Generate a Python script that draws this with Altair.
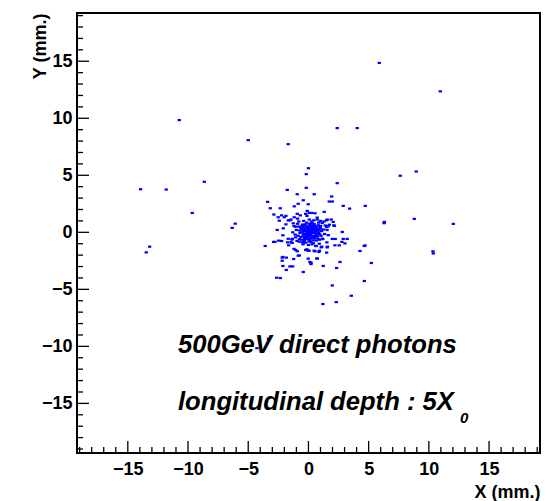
import altair as alt
import pandas as pd

# ---- data (mm) ----
outer_x = [5.88, 10.95, -10.73, -5.00, -1.68, 2.39, 4.05, 0.00, -0.18, 2.39, 7.62, 8.95, -8.65, -13.94, -11.81,
           -9.65, -1.76, -0.93, 0.48, -0.18, -3.39, -3.17, -2.34, -0.43, -0.85, -0.02, -1.18, 1.93, 1.73, 1.98,
           2.89, 3.42, 4.72, 8.79, 1.31, -2.87, -2.23, -1.87, -2.51, -2.01, -0.93, -0.68, -0.23, -0.12, 0.07,
           0.29, 0.54, -0.10, -1.18, -0.90, 0.73, 0.73, 1.56, 1.89, 0.07, -1.54, -6.08, -6.33, -13.19, -13.47,
           6.30, 6.28, 12.03, 10.34, 10.37, 5.22, 4.64, 3.56, 2.31, 1.20, 1.98, 2.34, 2.62, 1.23, -0.43,
           0.21, 0.12, 0.73, -0.02, -0.85, -1.23, -1.84, -2.18, -2.18, -2.12, -1.54, -1.31, -1.84, -2.64, -2.34,
           -3.59, 4.28, 4.63, 4.70, 3.22, 2.89, 3.03, 2.78, 2.56, 2.20, 2.23, 1.98, 2.81, 2.14, 2.06,
           1.64, 1.51, 1.51, 0.87, 0.54, 1.56, 1.06, -0.04, -0.23, -1.06, -1.20, -2.89, -2.78, -2.48, -2.23,
           -1.64, -1.73, -1.35, -1.37, -1.06, -2.12, -2.09, -2.59, -1.87, -2.42, -1.68, -1.45, -1.26, -1.06, -0.93,
           -0.76, -1.68, -1.45, -1.34, 1.73, 1.15, 1.01, 1.51, 2.12, 1.53, 1.58, 1.11, 0.64, 0.41, 0.91,
           0.47, 0.70, 0.22, -2.12, -3.32, -4.28, -0.50, -0.22, 0.00, -0.13, 0.06, -0.36, -0.77]
outer_y = [14.85, 12.36, 9.84, 8.08, 7.73, 9.14, 9.14, 5.62, 5.10, 4.31, 4.96, 5.33, 4.43, 3.78, 3.75,
           1.70, 3.72, 3.34, 3.34, 3.90, 2.67, 2.11, 2.11, 2.81, 2.50, 2.46, 2.28, 3.14, 2.70, 2.70,
           2.32, 2.08, 2.32, 1.18, 1.79, 1.56, 1.49, 1.44, 1.32, 1.32, 1.62, 1.49, 1.62, 1.44, 1.70,
           1.70, 1.67, 1.88, 1.32, 1.20, 1.29, 1.12, 1.12, 1.12, 1.12, 1.05, 0.76, 0.39, -1.26, -1.76,
           0.91, 0.80, 0.74, -1.67, -1.85, -2.69, -4.27, -5.56, -6.12, -6.29, -4.66, -3.13, -2.60, -2.95, -3.48,
           -2.78, -2.60, -2.31, -2.31, -2.05, -2.34, -2.22, -2.22, -2.49, -2.95, -2.99, -2.99, -3.30, -3.98, -4.01,
           -1.20, -1.64, -1.20, -1.15, -0.58, -0.58, -0.97, -0.84, -1.14, -1.14, -0.58, -0.58, 0.03, 0.56, 0.91,
           0.53, 1.05, -1.78, -1.72, -1.67, -1.32, -1.32, -1.61, -1.55, -1.55, -1.46, -0.84, -0.84, -0.73, -0.76,
           -1.14, -0.88, -0.93, -0.64, -0.44, -0.26, 0.35, 0.21, 0.70, 1.02, 1.05, 1.12, 0.79, 0.49, -1.66,
           -2.03, -0.57, -0.87, -0.57, 0.67, 0.81, 0.55, 0.46, 0.61, -0.88, -1.26, -1.26, -1.20, -0.96, -1.61,
           -1.61, -2.28, -2.66, -2.16, -9.34, -10.16, -0.88, -0.91, -1.11, -1.49, -1.61, -0.67, -0.82]

core_x = [0.12, 0.25, -0.05, 0.35, -0.20, 0.05, 0.48, -0.32, 0.18, 0.62, -0.45, 0.30, -0.12, 0.72, -0.60,
          0.02, 0.55, -0.38, 0.85, -0.70, 0.40, -0.25, 0.95, -0.80, 0.10, 0.78, -0.55, 0.20, 1.05, -0.15,
          0.08, 0.42, -0.10, 0.28, 0.15, -0.28, 0.58, -0.02, 0.38, -0.42, 0.68, 0.22, -0.08, 0.50, -0.50,
          0.88, -0.65, 0.32, 0.65, -0.35, 0.00, 0.20, -0.18, 0.10, 0.45, -0.22, 0.30, 0.55, -0.40, 0.15,
          0.75, -0.62, 0.92, 1.10, -0.85, 0.48, -0.25, 0.05, 0.82, -0.72, 0.35, 0.02, -0.05, 0.60, 0.25,
          -0.32, 0.40, 0.70, -0.15, 0.12, 1.00, -0.48, 0.58, 0.28, -0.08, 0.38, 0.80, -0.30, 0.18, 0.50,
          0.65, -0.55, 0.95, 0.05, -0.42, 0.25, 1.15, -0.75, 0.85, -0.90,
          1.25, 1.35, 1.20, 1.40, -1.00, -1.10, -0.95, -1.20, 0.90, 0.30, -0.45, 1.30, 0.45, -0.40, -0.80,
          1.65, 1.55, -1.30, 0.60, 1.00]
core_y = [0.05, -0.10, 0.18, 0.22, -0.15, -0.32, 0.02, 0.10, 0.40, -0.22, -0.30, -0.48, 0.52, 0.30, 0.28,
          -0.60, 0.55, 0.55, -0.05, -0.05, -0.70, -0.62, 0.45, 0.50, 0.75, -0.55, -0.65, -0.85, -0.30, 0.85,
          0.28, 0.12, -0.05, 0.08, -0.20, 0.32, 0.38, 0.42, -0.32, -0.12, 0.10, 0.62, -0.45, -0.50, 0.05,
          0.20, 0.42, 0.82, -0.72, -0.82, 0.00, 0.18, 0.08, -0.10, 0.30, -0.35, 0.48, -0.08, 0.40, -0.55,
          -0.35, -0.40, -0.65, 0.10, -0.30, 0.72, 0.70, 0.60, 0.62, 0.15, -0.05, 0.30, -0.22, 0.20, -0.38,
          -0.48, 0.40, -0.18, 0.35, -0.72, 0.32, 0.68, -0.35, 0.25, 0.12, 0.62, 0.05, -0.22, 0.02, 0.15,
          0.50, 0.55, -0.20, -0.80, 0.22, 0.95, -0.55, -0.60, 0.85, 0.75,
          0.25, -0.15, -0.60, 0.60, 0.20, -0.20, -0.75, 0.55, -1.00, -1.05, -1.05, 0.95, 1.05, 1.00, 0.95,
          -0.25, 0.20, 0.00, -1.20, 1.00]

major_ticks = [-15, -10, -5, 0, 5, 10, 15]
minor_ticks = [-19, -18, -17, -16, -14, -13, -12, -11, -9, -8, -7, -6, -4, -3, -2, -1,
               1, 2, 3, 4, 6, 7, 8, 9, 11, 12, 13, 14, 16, 17, 18, 19]
x_domain = [-19.22, 19.23]
y_domain = [-19.35, 19.23]

line1 = ["500GeV direct photons"]
line2 = ["longitudinal depth : 5X"]
sub = ["0"]

W, H = 463, 440
FONT = "Liberation Sans"

df = pd.DataFrame({"x": outer_x + core_x, "y": outer_y + core_y})
xs = alt.Scale(domain=x_domain, nice=False, zero=False)
ys = alt.Scale(domain=y_domain, nice=False, zero=False)

common_axis = dict(ticks=False, domain=False, grid=False, labelFont=FONT, labelFontWeight="bold",
                   labelFontSize=18, labelColor="black", labelOverlap=False, titleFont=FONT,
                   titleFontWeight="bold", titleFontSize=18, titleColor="black", values=major_ticks)

points = alt.Chart(df).mark_point(
    shape="M-1,-0.67L1,-0.67L1,0.67L-1,0.67Z", filled=True, size=11, color="#0000ff", opacity=1, strokeWidth=0
).encode(
    x=alt.X("x:Q", scale=xs, axis=alt.Axis(title="X (mm.)", labelPadding=7, titleAnchor="end",
                                          titleAlign="right", titleBaseline="alphabetic", titleX=W, titleY=44,
                                          **common_axis)),
    y=alt.Y("y:Q", scale=ys, axis=alt.Axis(title="Y (mm.)", labelPadding=5, titleAngle=270, titleAnchor="end",
                                          titleAlign="right", titleBaseline="alphabetic", titleX=-32, titleY=0,
                                          **common_axis)),
)

def xticks(vals, length):
    return alt.Chart(pd.DataFrame({"t": vals})).mark_rule(color="black", strokeWidth=1.3).encode(
        x=alt.X("t:Q", scale=xs, axis=None), y=alt.value(H), y2=alt.value(H - length))

def yticks(vals, length):
    return alt.Chart(pd.DataFrame({"t": vals})).mark_rule(color="black", strokeWidth=1.3).encode(
        y=alt.Y("t:Q", scale=ys, axis=None), x=alt.value(0), x2=alt.value(length))

def label(txt, x, y, size):
    return alt.Chart(pd.DataFrame({"t": txt})).mark_text(
        font=FONT, fontWeight="bold", fontStyle="italic", fontSize=size, align="left",
        baseline="alphabetic", color="black"
    ).encode(text="t:N", x=alt.value(x), y=alt.value(y))

chart = alt.layer(
    points,
    xticks(major_ticks, 12), xticks(minor_ticks, 6),
    yticks(major_ticks, 12), yticks(minor_ticks, 6),
    label(line1, 101, 340, 25.6),
    label(line2, 101, 397, 25.6),
    label(sub, 383, 410, 15),
).resolve_axis(
    x="independent", y="independent"
).properties(
    width=W, height=H, autosize=alt.AutoSizeParams(type="none"),
    padding={"left": 77, "top": 13, "right": 18, "bottom": 48}
).configure_view(stroke="black", strokeWidth=2)

chart.save("out.html", embed_options={"renderer": "svg", "actions": False})
